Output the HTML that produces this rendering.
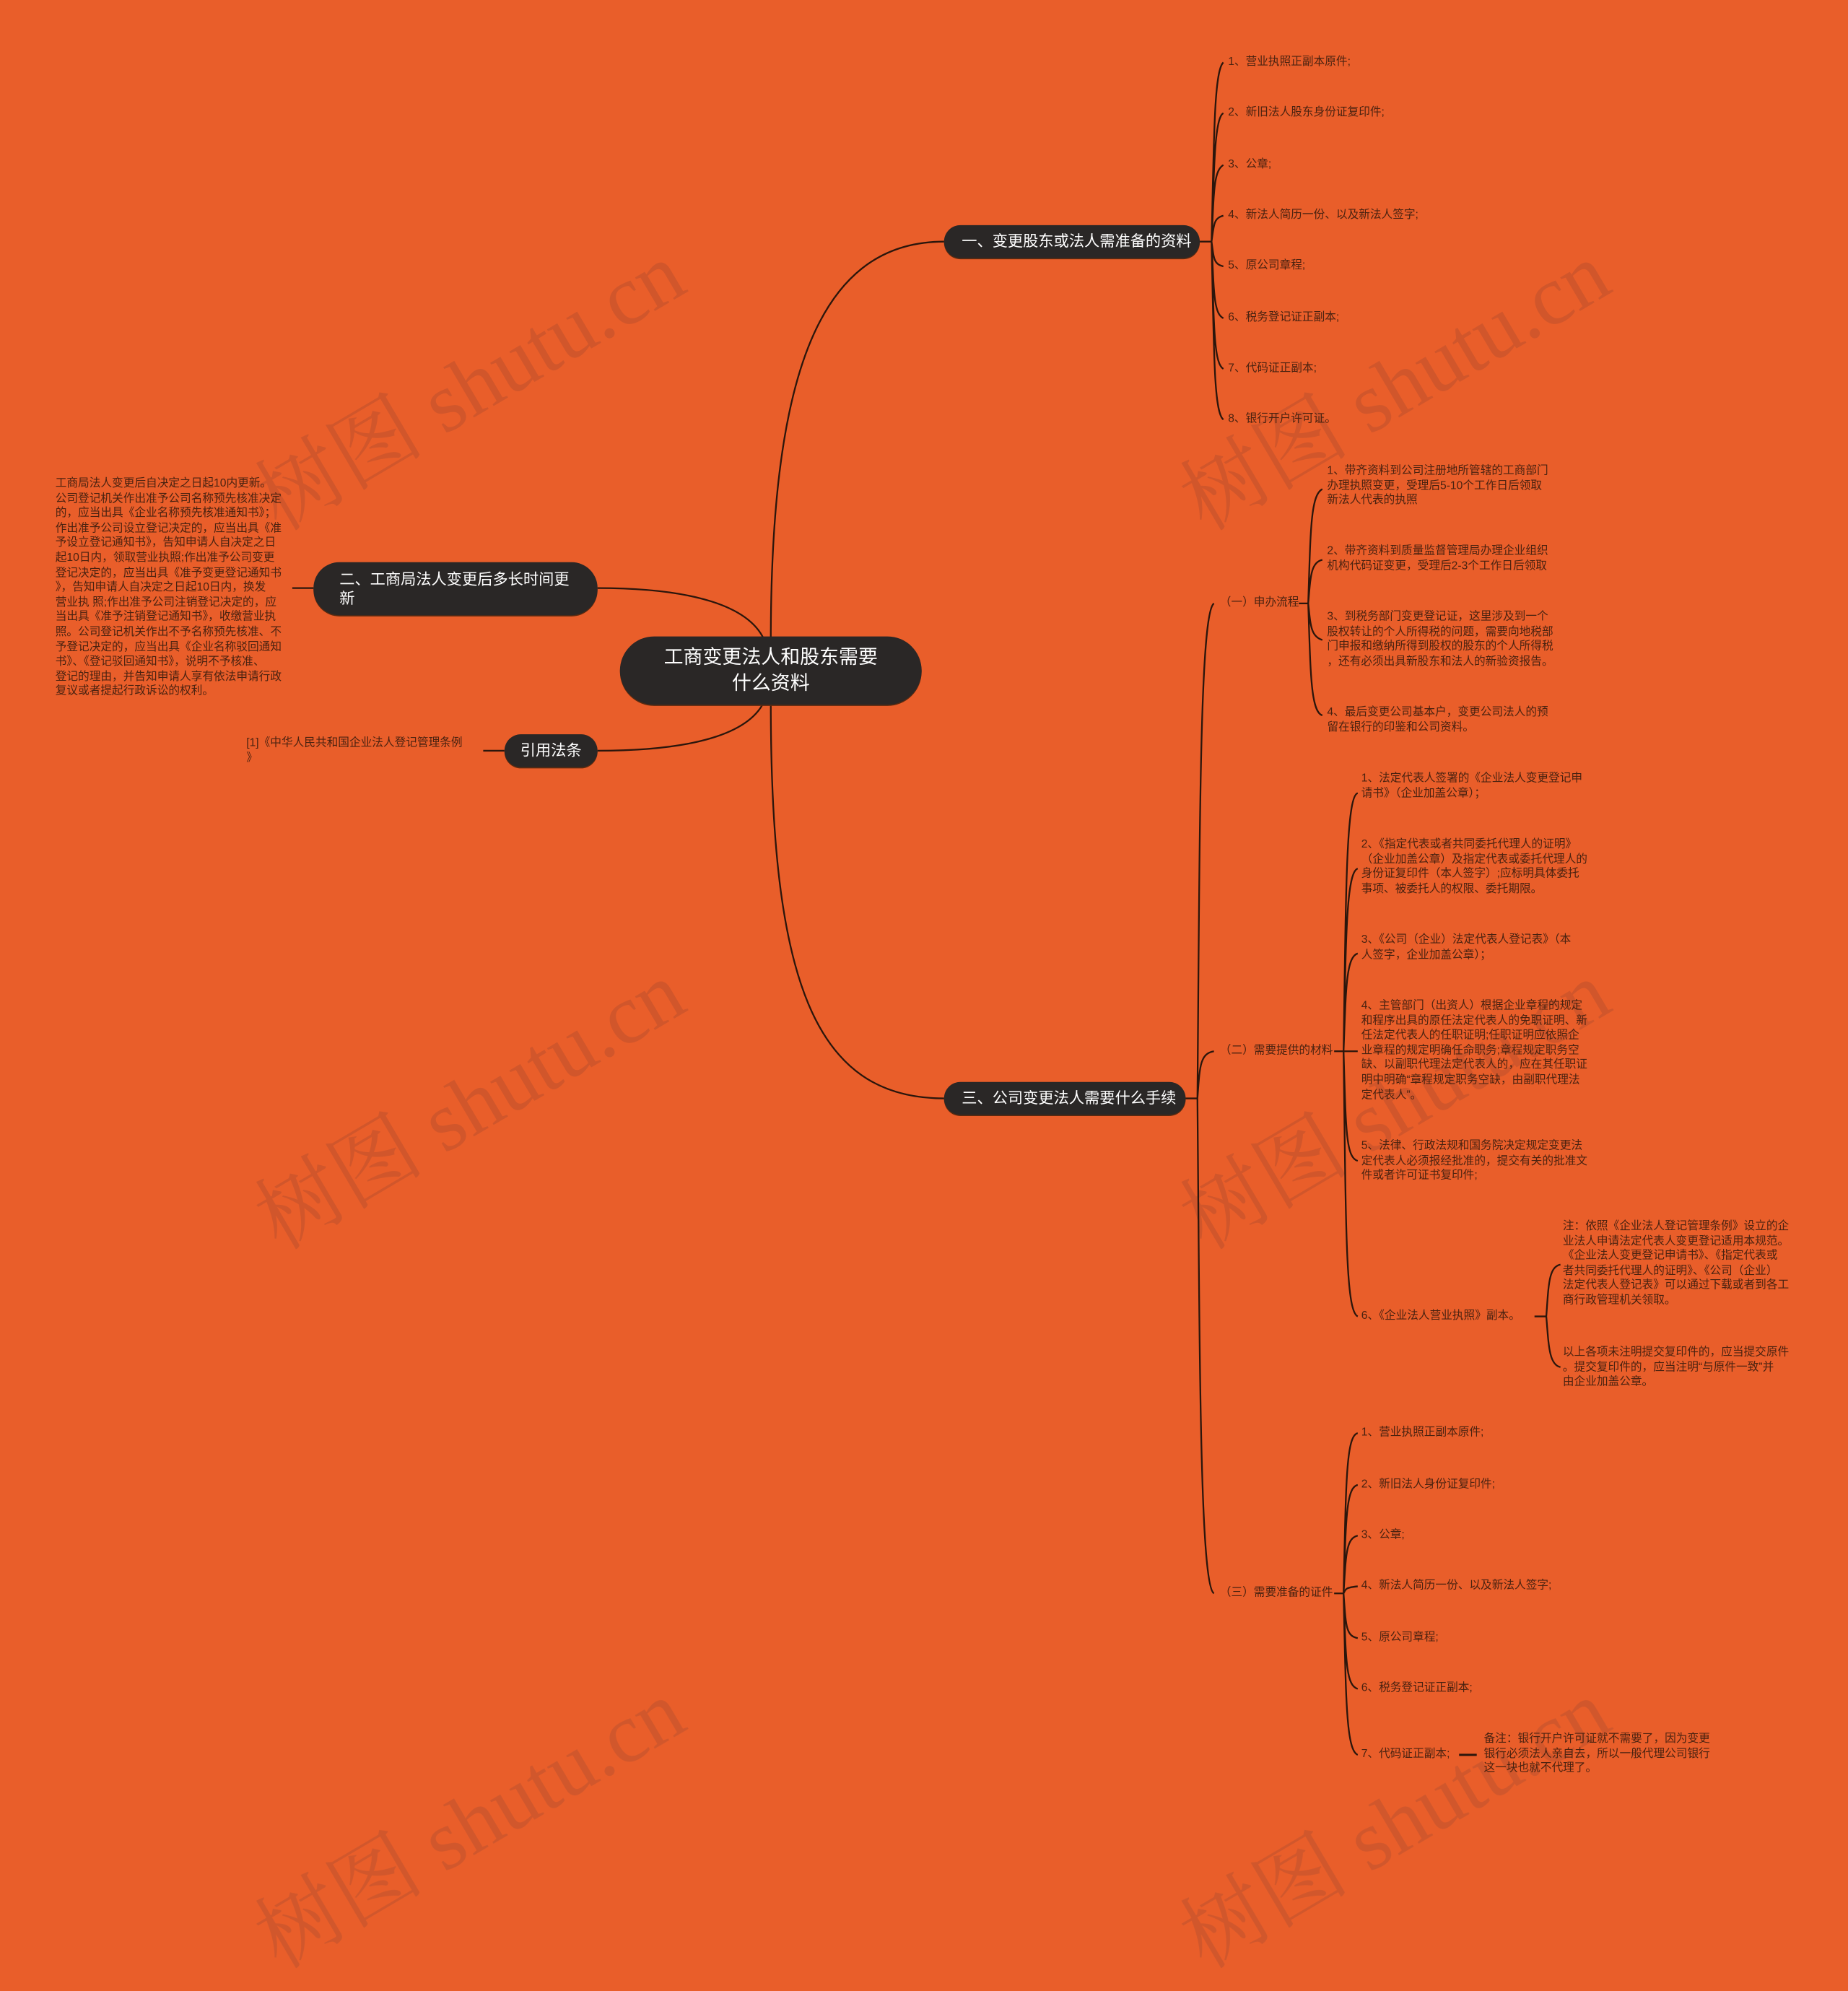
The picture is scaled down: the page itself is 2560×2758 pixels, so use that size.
<!DOCTYPE html>
<html><head><meta charset="utf-8">
<style>
html,body{margin:0;padding:0;background:#E95E2A;}
body{width:2560px;height:2537px;overflow:hidden;position:relative;}
#c{position:absolute;left:0;top:0;width:1568px;height:1554px;transform:scale(1.63265,1.63256);transform-origin:0 0;font-family:"Liberation Sans","Noto Sans CJK SC",sans-serif;}
.t{position:absolute;font-size:9.6px;line-height:12.6px;color:#4a2210;white-space:nowrap;}
.n{position:absolute;background:#2a2726;color:#fff;border-radius:16px;box-sizing:border-box;display:flex;align-items:center;font-size:13px;line-height:16px;box-shadow:0 1px 0 #5a2a10;}
.wm{position:absolute;font-family:"Liberation Serif","Noto Serif CJK SC",serif;font-size:72px;color:#C9552C;opacity:.75;white-space:nowrap;transform:rotate(-30.5deg);transform-origin:0 0;}
svg{position:absolute;left:0;top:0;}
</style></head><body><div id="c">
<div class="wm" style="left:195px;top:380px">树图 shutu.cn</div>
<div class="wm" style="left:980px;top:380px">树图 shutu.cn</div>
<div class="wm" style="left:195px;top:990px">树图 shutu.cn</div>
<div class="wm" style="left:980px;top:990px">树图 shutu.cn</div>
<div class="wm" style="left:195px;top:1600px">树图 shutu.cn</div>
<div class="wm" style="left:980px;top:1600px">树图 shutu.cn</div>

<svg width="1568" height="1554" fill="none" stroke="#2b160c" stroke-width="1.4">
<path d="M654,545 C654,330 690,205 801,205"/>
<path d="M654,596 C654,830 690,932 801,932"/>
<path d="M507,499 C590,499 635,515 648,542"/>
<path d="M507,637 C590,637 635,622 648,596"/>
<path d="M248,499 H266"/>
<path d="M410,637 H428"/>
<path d="M1018,205 H1028"/>
<path d="M1028,205 C1030,120 1030,60 1038,53 M1028,205 C1030,150 1030,100 1038,96 M1028,205 C1030,160 1030,145 1038,140 M1028,205 C1030,190 1030,185 1038,183 M1028,205 C1030,220 1030,224 1038,226 M1028,205 C1030,250 1030,266 1038,270 M1028,205 C1030,280 1030,308 1038,313 M1028,205 C1030,300 1030,350 1038,356"/>
<path d="M1006,932 H1016"/>
<path d="M1016,932 C1018,700 1018,520 1030,512 M1016,932 C1018,905 1018,894 1030,892 M1016,932 C1018,1150 1018,1345 1030,1352"/>
<path d="M1102,512 H1110"/>
<path d="M1110,512 C1112,450 1112,420 1122,415 M1110,512 C1112,490 1112,477 1122,475 M1110,512 C1112,530 1112,540 1122,543 M1110,512 C1112,570 1112,604 1122,607"/>
<path d="M1132,892 H1140"/>
<path d="M1140,892 C1142,760 1142,675 1152,673 M1140,892 C1142,800 1142,740 1152,737 M1140,892 C1142,840 1142,812 1152,809 M1140,892 C1142,892 1142,892 1152,892 M1140,892 C1142,960 1142,982 1152,985 M1140,892 C1142,1050 1142,1112 1152,1117"/>
<path d="M1302,1117 H1312"/>
<path d="M1312,1117 C1314,1090 1314,1075 1324,1073 M1312,1117 C1314,1140 1314,1158 1324,1160"/>
<path d="M1132,1352 H1140"/>
<path d="M1140,1352 C1142,1260 1142,1218 1152,1216 M1140,1352 C1142,1290 1142,1262 1152,1260 M1140,1352 C1142,1320 1142,1305 1152,1303 M1140,1352 C1142,1348 1142,1347 1152,1346 M1140,1352 C1142,1380 1142,1388 1152,1390 M1140,1352 C1142,1410 1142,1430 1152,1433 M1140,1352 C1142,1440 1142,1485 1152,1489"/>
<path d="M1238,1489 H1253" stroke-width="1.8"/>
</svg>

<div class="n" style="left:526px;top:540px;width:256px;height:58px;border-radius:29px;justify-content:center;text-align:center;font-size:16.5px;line-height:22px;">工商变更法人和股东需要<br>什么资料</div>
<div class="n" style="left:801px;top:191px;width:217px;height:28px;padding-left:15px;">一、变更股东或法人需准备的资料</div>
<div class="n" style="left:801px;top:918px;width:205px;height:28px;padding-left:15px;">三、公司变更法人需要什么手续</div>
<div class="n" style="left:266px;top:477px;width:241px;height:45px;border-radius:22px;padding-left:22px;">二、工商局法人变更后多长时间更<br>新</div>
<div class="n" style="left:428px;top:623px;width:79px;height:28px;justify-content:center;">引用法条</div>

<div class="t" style="left:47px;top:405px;">工商局法人变更后自决定之日起10内更新。<br>公司登记机关作出准予公司名称预先核准决定<br>的，应当出具《企业名称预先核准通知书》；<br>作出准予公司设立登记决定的，应当出具《准<br>予设立登记通知书》，告知申请人自决定之日<br>起10日内，领取营业执照;作出准予公司变更<br>登记决定的，应当出具《准予变更登记通知书<br>》，告知申请人自决定之日起10日内，换发<br>营业执 照;作出准予公司注销登记决定的，应<br>当出具《准予注销登记通知书》，收缴营业执<br>照。公司登记机关作出不予名称预先核准、不<br>予登记决定的，应当出具《企业名称驳回通知<br>书》、《登记驳回通知书》，说明不予核准、<br>登记的理由，并告知申请人享有依法申请行政<br>复议或者提起行政诉讼的权利。</div>
<div class="t" style="left:209px;top:625px;">[1]《中华人民共和国企业法人登记管理条例<br>》</div>

<div class="t" style="left:1042px;top:47px;">1、营业执照正副本原件;</div>
<div class="t" style="left:1042px;top:90px;">2、新旧法人股东身份证复印件;</div>
<div class="t" style="left:1042px;top:134px;">3、公章;</div>
<div class="t" style="left:1042px;top:177px;">4、新法人简历一份、以及新法人签字;</div>
<div class="t" style="left:1042px;top:220px;">5、原公司章程;</div>
<div class="t" style="left:1042px;top:264px;">6、税务登记证正副本;</div>
<div class="t" style="left:1042px;top:307px;">7、代码证正副本;</div>
<div class="t" style="left:1042px;top:350px;">8、银行开户许可证。</div>

<div class="t" style="left:1035px;top:506px;">（一）申办流程</div>
<div class="t" style="left:1035px;top:886px;">（二）需要提供的材料</div>
<div class="t" style="left:1035px;top:1346px;">（三）需要准备的证件</div>

<div class="t" style="left:1126px;top:394px;">1、带齐资料到公司注册地所管辖的工商部门<br>办理执照变更，受理后5-10个工作日后领取<br>新法人代表的执照</div>
<div class="t" style="left:1126px;top:462px;">2、带齐资料到质量监督管理局办理企业组织<br>机构代码证变更，受理后2-3个工作日后领取</div>
<div class="t" style="left:1126px;top:518px;">3、到税务部门变更登记证，这里涉及到一个<br>股权转让的个人所得税的问题，需要向地税部<br>门申报和缴纳所得到股权的股东的个人所得税<br>，还有必须出具新股东和法人的新验资报告。</div>
<div class="t" style="left:1126px;top:599px;">4、最后变更公司基本户，变更公司法人的预<br>留在银行的印鉴和公司资料。</div>

<div class="t" style="left:1155px;top:655px;">1、法定代表人签署的《企业法人变更登记申<br>请书》（企业加盖公章）；</div>
<div class="t" style="left:1155px;top:711px;">2、《指定代表或者共同委托代理人的证明》<br>（企业加盖公章）及指定代表或委托代理人的<br>身份证复印件（本人签字）;应标明具体委托<br>事项、被委托人的权限、委托期限。</div>
<div class="t" style="left:1155px;top:792px;">3、《公司（企业）法定代表人登记表》（本<br>人签字，企业加盖公章）；</div>
<div class="t" style="left:1155px;top:848px;">4、主管部门（出资人）根据企业章程的规定<br>和程序出具的原任法定代表人的免职证明、新<br>任法定代表人的任职证明;任职证明应依照企<br>业章程的规定明确任命职务;章程规定职务空<br>缺、以副职代理法定代表人的，应在其任职证<br>明中明确“章程规定职务空缺，由副职代理法<br>定代表人”。</div>
<div class="t" style="left:1155px;top:967px;">5、法律、行政法规和国务院决定规定变更法<br>定代表人必须报经批准的，提交有关的批准文<br>件或者许可证书复印件;</div>
<div class="t" style="left:1155px;top:1111px;">6、《企业法人营业执照》副本。</div>
<div class="t" style="left:1326px;top:1035px;">注：依照《企业法人登记管理条例》设立的企<br>业法人申请法定代表人变更登记适用本规范。<br>《企业法人变更登记申请书》、《指定代表或<br>者共同委托代理人的证明》、《公司（企业）<br>法定代表人登记表》可以通过下载或者到各工<br>商行政管理机关领取。</div>
<div class="t" style="left:1326px;top:1142px;">以上各项未注明提交复印件的，应当提交原件<br>。提交复印件的，应当注明“与原件一致”并<br>由企业加盖公章。</div>

<div class="t" style="left:1155px;top:1210px;">1、营业执照正副本原件;</div>
<div class="t" style="left:1155px;top:1254px;">2、新旧法人身份证复印件;</div>
<div class="t" style="left:1155px;top:1297px;">3、公章;</div>
<div class="t" style="left:1155px;top:1340px;">4、新法人简历一份、以及新法人签字;</div>
<div class="t" style="left:1155px;top:1384px;">5、原公司章程;</div>
<div class="t" style="left:1155px;top:1427px;">6、税务登记证正副本;</div>
<div class="t" style="left:1155px;top:1483px;">7、代码证正副本;</div>
<div class="t" style="left:1259px;top:1470px;">备注：银行开户许可证就不需要了，因为变更<br>银行必须法人亲自去，所以一般代理公司银行<br>这一块也就不代理了。</div>
</div></body></html>
